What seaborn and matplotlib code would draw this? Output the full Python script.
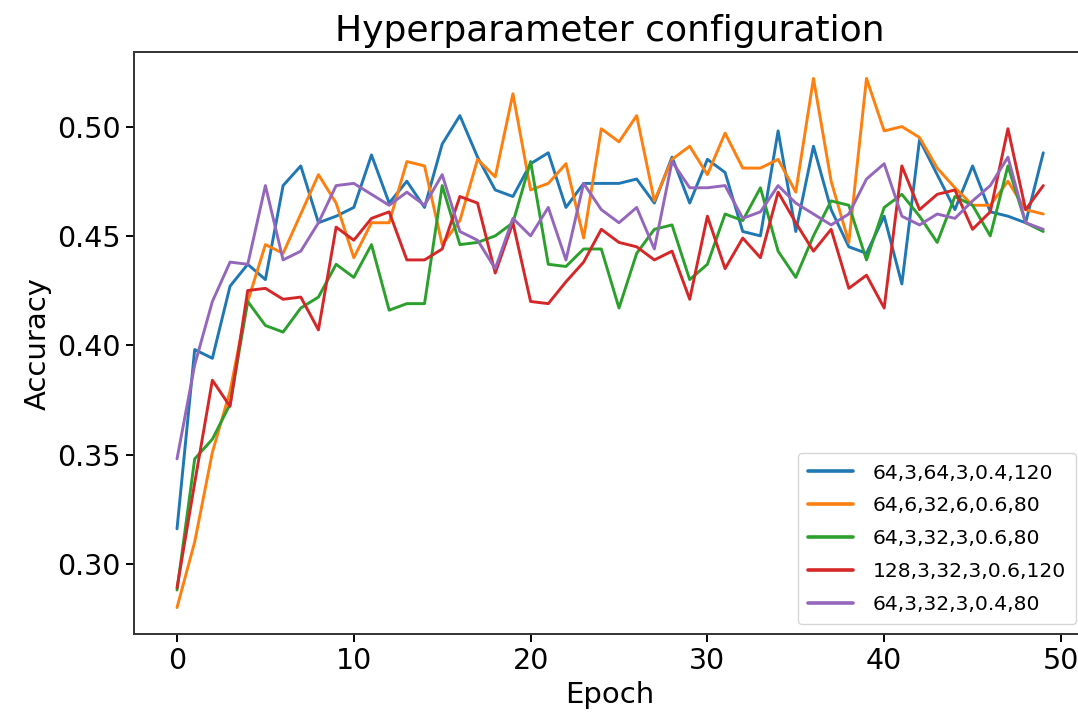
import numpy as np
import pandas as pd
import matplotlib
matplotlib.use("Agg")
import matplotlib.pyplot as plt
import seaborn as sns

epochs = list(range(50))

labels = ["64,3,64,3,0.4,120", "64,6,32,6,0.6,80", "64,3,32,3,0.6,80",
          "128,3,32,3,0.6,120", "64,3,32,3,0.4,80"]

acc_blue = [0.316, 0.398, 0.394, 0.427, 0.437, 0.430, 0.473, 0.482, 0.456, 0.459,
            0.463, 0.487, 0.465, 0.475, 0.463, 0.492, 0.505, 0.486, 0.471, 0.468,
            0.483, 0.488, 0.463, 0.474, 0.474, 0.474, 0.476, 0.465, 0.486, 0.465,
            0.485, 0.479, 0.452, 0.450, 0.498, 0.452, 0.491, 0.462, 0.445, 0.442,
            0.459, 0.428, 0.494, 0.478, 0.462, 0.482, 0.461, 0.459, 0.456, 0.488]

acc_orange = [0.280, 0.310, 0.351, 0.379, 0.420, 0.446, 0.442, 0.460, 0.478, 0.465,
              0.440, 0.456, 0.456, 0.484, 0.482, 0.446, 0.457, 0.485, 0.477, 0.515,
              0.471, 0.474, 0.483, 0.449, 0.499, 0.493, 0.505, 0.466, 0.485, 0.491,
              0.478, 0.497, 0.481, 0.481, 0.485, 0.470, 0.522, 0.475, 0.447, 0.522,
              0.498, 0.500, 0.495, 0.481, 0.472, 0.464, 0.464, 0.475, 0.462, 0.460]

acc_green = [0.288, 0.348, 0.357, 0.373, 0.420, 0.409, 0.406, 0.417, 0.422, 0.437,
             0.431, 0.446, 0.416, 0.419, 0.419, 0.473, 0.446, 0.447, 0.450, 0.456,
             0.484, 0.437, 0.436, 0.444, 0.444, 0.417, 0.442, 0.453, 0.455, 0.430,
             0.437, 0.460, 0.457, 0.472, 0.443, 0.431, 0.450, 0.466, 0.464, 0.439,
             0.463, 0.469, 0.459, 0.447, 0.468, 0.464, 0.450, 0.482, 0.456, 0.452]

acc_red = [0.289, 0.337, 0.384, 0.372, 0.425, 0.426, 0.421, 0.422, 0.407, 0.454,
           0.448, 0.458, 0.461, 0.439, 0.439, 0.444, 0.468, 0.465, 0.433, 0.456,
           0.420, 0.419, 0.429, 0.438, 0.453, 0.447, 0.445, 0.439, 0.443, 0.421,
           0.459, 0.435, 0.449, 0.440, 0.470, 0.456, 0.443, 0.453, 0.426, 0.432,
           0.417, 0.482, 0.462, 0.469, 0.471, 0.453, 0.461, 0.499, 0.462, 0.473]

acc_purple = [0.348, 0.391, 0.420, 0.438, 0.437, 0.473, 0.439, 0.443, 0.456, 0.473,
              0.474, 0.469, 0.464, 0.470, 0.464, 0.478, 0.452, 0.448, 0.435, 0.458,
              0.450, 0.463, 0.439, 0.474, 0.462, 0.456, 0.463, 0.444, 0.484, 0.472,
              0.472, 0.473, 0.458, 0.461, 0.473, 0.465, 0.460, 0.455, 0.460, 0.476,
              0.483, 0.459, 0.455, 0.460, 0.458, 0.466, 0.473, 0.486, 0.456, 0.453]

series = [acc_blue, acc_orange, acc_green, acc_red, acc_purple]

frames = []
for lab, vals in zip(labels, series):
    frames.append(pd.DataFrame({"Epoch": epochs, "Accuracy": vals, "config": lab}))
df = pd.concat(frames, ignore_index=True)

sns.set_theme(style="ticks", rc={"text.color": "black", "axes.labelcolor": "black",
                                 "xtick.color": "black", "ytick.color": "black"})
plt.rcParams["font.family"] = ["DejaVu Sans"]

W, H = 1078, 717
fig = plt.figure(figsize=(W / 100, H / 100), dpi=100)
ax_left, ax_right, ax_top, ax_bottom = 133.7, 1086.6, 52, 634
ax = fig.add_axes([ax_left / W, (H - ax_bottom) / H,
                   (ax_right - ax_left) / W, (ax_bottom - ax_top) / H])

palette = sns.color_palette("tab10")[:5]
sns.lineplot(data=df, x="Epoch", y="Accuracy", hue="config", hue_order=labels,
             palette=palette, linewidth=2.1, ax=ax, legend=True)

ax.set_xticks([0, 10, 20, 30, 40, 50])
ax.set_yticks([0.30, 0.35, 0.40, 0.45, 0.50])
ax.set_yticklabels(["0.30", "0.35", "0.40", "0.45", "0.50"])
ax.tick_params(axis="both", labelsize=20.5, length=6, width=1.4)
for s in ax.spines.values():
    s.set_linewidth(1.4)
    s.set_color(".2")

ax.set_xlabel("Epoch", fontsize=21)
ax.set_ylabel("Accuracy", fontsize=21)
ax.set_title("Hyperparameter configuration", fontsize=26, pad=8)

leg = ax.legend(loc="lower right", fontsize=14.6, handlelength=2.2,
                handletextpad=1.0, labelspacing=0.68, borderpad=0.5, title=None)
for line in leg.get_lines():
    line.set_linewidth(2.6)

fig.savefig("out.png", dpi=100)
